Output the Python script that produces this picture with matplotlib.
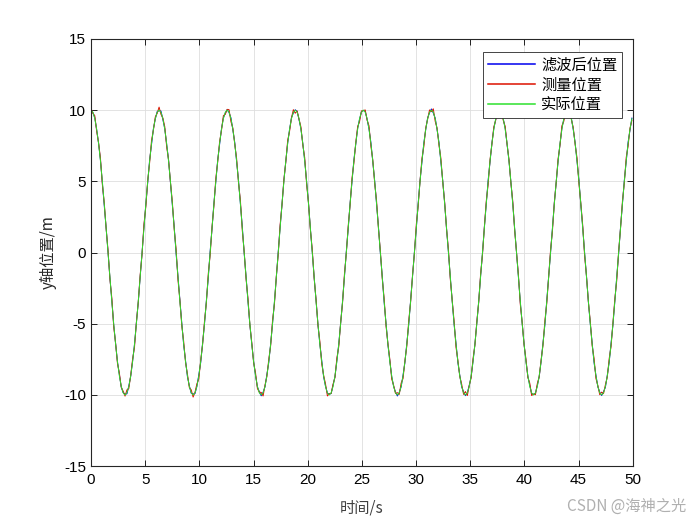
import numpy as np
import matplotlib
matplotlib.use('Agg')
import matplotlib.pyplot as plt

plt.rcParams['font.family'] = ['Liberation Sans', 'Noto Sans CJK SC', 'DejaVu Sans']
plt.rcParams['axes.unicode_minus'] = False

# one cycle of the true position (10 degree steps), period ~6.28 s
period = 6.283
cycle = [10.00, 9.85, 9.40, 8.66, 7.66, 6.43, 5.00, 3.42, 1.74, 0.00,
         -1.74, -3.42, -5.00, -6.43, -7.66, -8.66, -9.40, -9.85, -10.00,
         -9.85, -9.40, -8.66, -7.66, -6.43, -5.00, -3.42, -1.74, 0.00,
         1.74, 3.42, 5.00, 6.43, 7.66, 8.66, 9.40, 9.85]
# small measurement / filter deviations seen at the peaks
meas_err = [0.12, -0.08, 0.21, -0.15, 0.05, 0.18, -0.22, 0.09, -0.04,
            0.16, -0.11, 0.24, -0.19, 0.07, -0.13, 0.20, -0.06]
filt_err = [0.04, -0.03, 0.07, -0.05, 0.02, 0.06, -0.07, 0.03, -0.02,
            0.05, -0.04, 0.08, -0.06]

labels = ['滤波后位置', '测量位置', '实际位置']
xticks = [0, 5, 10, 15, 20, 25, 30, 35, 40, 45, 50]
yticks = [-15, -10, -5, 0, 5, 10, 15]

step = period / len(cycle)
n = int(50 / step) + 1
t = np.arange(n) * step
actual = np.resize(np.array(cycle), n)
measured = actual + np.resize(np.array(meas_err), n)
filtered = actual + np.resize(np.array(filt_err), n)

fig = plt.figure(figsize=(7, 5.25), dpi=100)
ax = fig.add_axes([0.13, 0.112, 0.774, 0.814])
ax.plot(t, filtered, color='#0000ee', lw=0.7, label=labels[0])
ax.plot(t, measured, color='#dd1100', lw=0.7, label=labels[1])
ax.plot(t, actual, color='#2ee02e', lw=0.7, label=labels[2])

ax.set_xlim(0, 50)
ax.set_ylim(-15, 15)
ax.set_xticks(xticks)
ax.set_yticks(yticks)
ax.tick_params(direction='in', top=True, right=True, labelsize=11, length=4, width=0.6)
ax.tick_params(axis='x', pad=5)
ax.grid(True, color='#dedede', lw=0.6)
ax.set_axisbelow(True)
for s in ax.spines.values():
    s.set_linewidth(0.8)
    s.set_color('#262626')

ax.set_xlabel('时间/s', fontsize=11, family=['Noto Sans CJK SC'], color='#404040', labelpad=9)
ax.set_ylabel('y轴位置/m', fontsize=11, family=['Noto Sans CJK SC'], color='#262626', labelpad=5)

leg = ax.legend(loc='upper right', bbox_to_anchor=(622 / 700, 1 - 52 / 525),
                bbox_transform=fig.transFigure, borderaxespad=0,
                prop={'family': 'Noto Sans CJK SC', 'size': 11},
                handlelength=3.1, fancybox=False, framealpha=1,
                borderpad=0.3, labelspacing=0.2, handletextpad=0.4)
leg.get_frame().set_edgecolor('#262626')
leg.get_frame().set_linewidth(0.6)
for h in leg.get_lines():
    h.set_linewidth(1.1)

fig.text(0.98, 0.02, 'CSDN @海神之光', ha='right', va='bottom', fontsize=11,
         color='#b0b0b0', family=['Noto Sans CJK SC'])

fig.savefig('out.png', dpi=100)
